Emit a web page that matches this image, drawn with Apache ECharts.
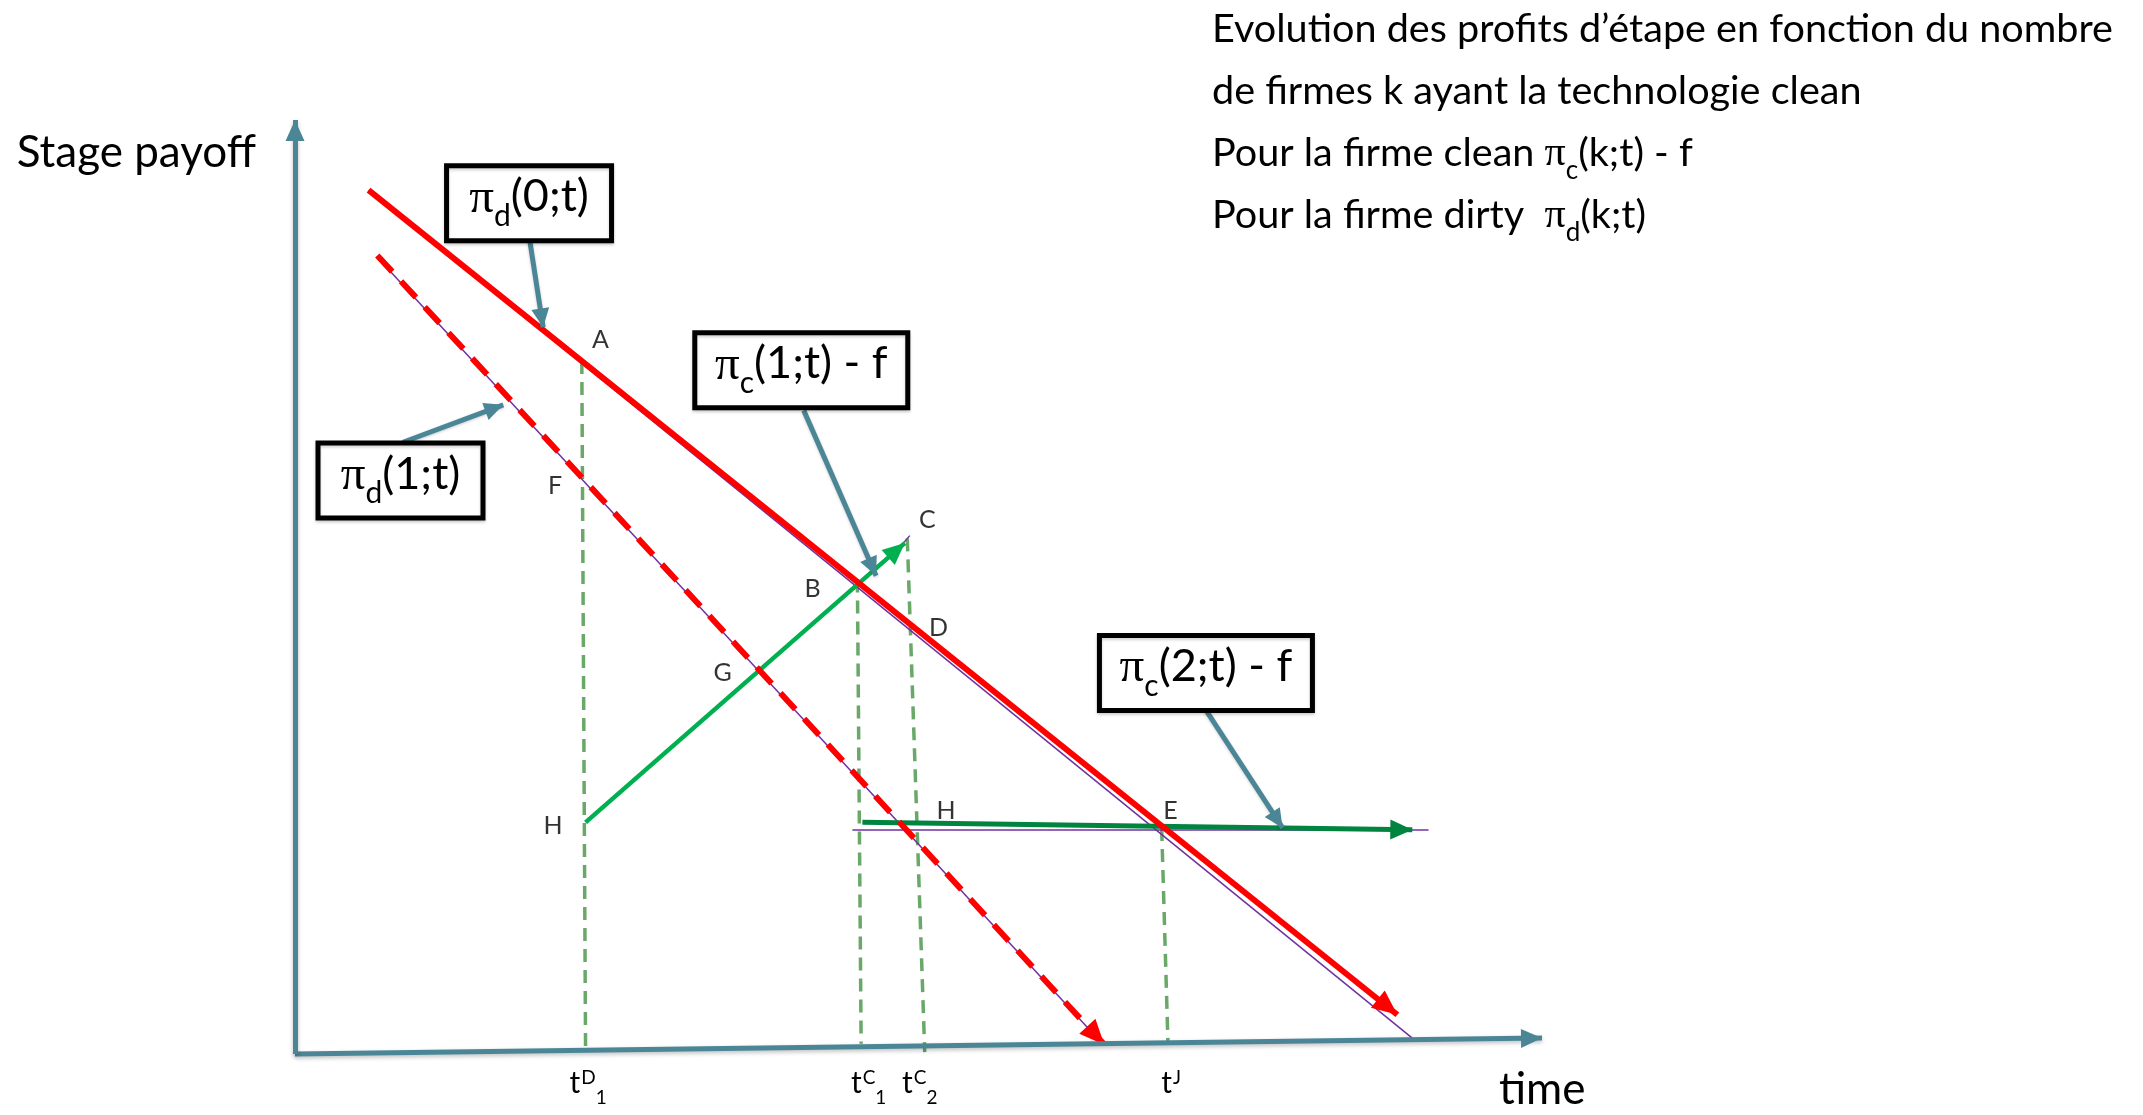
<!DOCTYPE html>
<html><head><meta charset="utf-8">
<script src="https://cdn.jsdelivr.net/npm/echarts@6/dist/echarts.min.js"></script>
<style>html,body{margin:0;padding:0;background:#fff}#c{width:2143px;height:1115px}</style>
</head><body><div id="c"></div>
<script>
// ---------- data (x = time units, y = payoff units) ----------
const axisX = [[0, 0], [100, 1.7]];
const axisY = [[0, 0], [0, 100]];
const piD0 = [[5.9, 92.5], [88.4, 4.2]];          // pi_d(0;t)
const piD0Thin = [[5.9, 92.5], [89.6, 1.7]];
const piD1 = [[6.6, 85.5], [64.9, 1.0]];          // pi_d(1;t)
const piD1Thin = [[6.8, 85.0], [64.4, 1.6]];
const piC1 = [[23.3, 24.8], [48.9, 54.7]];        // pi_c(1;t) - f
const piC1Thin = [[48.0, 53.5], [49.3, 55.5]];
const piC2 = [[45.5, 24.8], [89.6, 24.0]];        // pi_c(2;t) - f
const piC2Thin = [[44.7, 24.0], [90.9, 24.0]];
const dropTD1 = [[23.0, 74.2], [23.3, 0.7]];
const dropTC1 = [[45.1, 50.8], [45.4, 1.1]];
const dropTC2 = [[49.1, 55.2], [50.5, 0.2]];
const dropTJ = [[69.5, 24.2], [70.0, 1.4]];
const tickValues = [23.5, 46.0, 50.1, 70.25];
const tickSup = ['D', 'C', 'C', 'J'];
const tickSub = ['1', '1', '2', ''];
const pointNames = ['A', 'F', 'C', 'B', 'D', 'G', 'H', 'H', 'E'];
const pointX = [24.5, 20.85, 50.7, 41.5, 51.6, 34.3, 20.7, 52.2, 70.2];
const pointY = [76.5, 60.8, 57.2, 49.8, 45.6, 40.8, 24.4, 26.0, 26.0];
const boxSub = ['d', 'd', 'c', 'c'];
const boxArgs = ['(0;t)', '(1;t)', '(1;t) - f', '(2;t) - f'];
const boxAt = [[18.77, 91.1], [8.46, 61.4], [40.6, 73.2], [73.05, 40.8]];
const leaders = [
  [[18.85, 86.9], [19.9, 77.8]],
  [[8.66, 65.5], [16.7, 69.5]],
  [[40.8, 68.9], [46.6, 51.2]],
  [[73.1, 36.7], [79.2, 24.2]]
];
const noteLines = [
  ['Evolution des profits d\u2019étape en fonction du nombre'],
  ['de firmes k ayant la technologie clean'],
  ['Pour la firme clean ', 'c', '(k;t) - f'],
  ['Pour la firme dirty  ', 'd', '(k;t)']
];

// ---------- styles ----------
const FONT = 'Lato, "Noto Sans", sans-serif';
const SERIF = '"Liberation Serif", "DejaVu Serif", serif';
const TEAL = '#4a8696';
const RED = '#ff0000';
const PURPLE = '#7030a0';
const GREEN = '#00b050';
const DGREEN = '#00843f';
const DROP = '#6aa86a';
const BOX_W = [165, 165, 213, 213];   // pixel box sizes (style)
const BOX_H = 75;

// arrow head whose tip sits exactly on the line end (symbol box is centred on the end point)
function arrowHead(w, l) {
  const S = 2 * Math.max(l, w / 2);
  const c = S / 2;
  return {
    path: 'path://M0,0 M' + S + ',0 M' + c + ',' + c + ' L' + (c + w / 2) + ',' + (c + l) +
          ' L' + (c - w / 2) + ',' + (c + l) + ' Z M0,' + S + ' M' + S + ',' + S,
    size: S
  };
}

function seg(coordsList, lineStyle, head, z) {
  return {
    type: 'lines', coordinateSystem: 'cartesian2d', z: z, silent: true, clip: false,
    symbol: head ? ['none', head.path] : 'none',
    symbolSize: head ? head.size : 0,
    lineStyle: Object.assign({opacity: 1, curveness: 0}, lineStyle),
    data: coordsList.map(c => ({coords: c}))
  };
}

const noteText = noteLines.map(l => l.length === 1
  ? '{p|' + l[0] + '}'
  : '{p|' + l[0] + '}{pi|π}{s|' + l[1] + '}{p|' + l[2] + '}').join('\n');

const boxRich = {
  m: {fontFamily: FONT, fontSize: 45, fill: '#000', lineHeight: 54, verticalAlign: 'top'},
  pi: {fontFamily: SERIF, fontSize: 49, fill: '#000', lineHeight: 54, verticalAlign: 'top'},
  s: {fontFamily: FONT, fontSize: 30, fill: '#000', lineHeight: 32, padding: [27, 0, 0, 0], verticalAlign: 'top'}
};

const chart = echarts.init(document.getElementById('c'));
chart.setOption({
  animation: false,
  backgroundColor: '#fff',
  title: {
    text: noteText, left: 1212, top: 9, padding: 0,
    textStyle: {
      fontWeight: 'normal',
      rich: {
        p: {fontFamily: FONT, fontSize: 39.6, fontWeight: 'normal', color: '#000', lineHeight: 62, verticalAlign: 'top'},
        pi: {fontFamily: SERIF, fontSize: 42, fontWeight: 'normal', color: '#000', lineHeight: 62, verticalAlign: 'top'},
        s: {fontFamily: FONT, fontSize: 26, fontWeight: 'normal', color: '#000', lineHeight: 36, padding: [25, 0, 0, 0], verticalAlign: 'top'}
      }
    }
  },
  grid: {left: 295, top: 120, width: 1247, height: 937},
  xAxis: {
    type: 'value', min: 0, max: 100,
    splitLine: {show: false}, axisLine: {show: false}, axisTick: {show: false},
    axisLabel: {
      customValues: tickValues, margin: 14,
      formatter: function (v) {
        const i = tickValues.indexOf(v);
        return '{t|t}{p|' + tickSup[i] + '}' + (tickSub[i] ? '{b|' + tickSub[i] + '}' : '');
      },
      rich: {
        t: {fontFamily: FONT, fontSize: 30, color: '#000', lineHeight: 34, verticalAlign: 'top'},
        p: {fontFamily: FONT, fontSize: 19, color: '#000', lineHeight: 20, padding: [0, 0, 0, 1], verticalAlign: 'top'},
        b: {fontFamily: FONT, fontSize: 19, color: '#000', lineHeight: 20, padding: [20, 0, 0, 0], verticalAlign: 'top'}
      }
    },
    name: 'time', nameLocation: 'end', nameGap: -43,
    nameTextStyle: {fontFamily: FONT, fontSize: 44, color: '#000', align: 'left', verticalAlign: 'top', lineHeight: 50, padding: [11, 0, 0, 0]}
  },
  yAxis: {
    type: 'value', min: 0, max: 100,
    splitLine: {show: false}, axisLine: {show: false}, axisTick: {show: false}, axisLabel: {show: false},
    name: 'Stage payoff', nameLocation: 'end', nameGap: -33,
    nameTextStyle: {fontFamily: FONT, fontSize: 44, color: '#000', align: 'right', verticalAlign: 'middle', padding: [0, 39, 0, 0]}
  },
  series: [
    seg([dropTD1, dropTC1, dropTC2, dropTJ], {color: DROP, width: 3.5, type: [13, 8]}, null, 1),
    seg([piD0Thin, piD1Thin, piC1Thin, piC2Thin], {color: PURPLE, width: 1.5}, null, 2),
    seg([piC1], {color: GREEN, width: 4.5}, arrowHead(20, 22), 3),
    seg([piC2], {color: DGREEN, width: 5}, arrowHead(20, 22), 3),
    seg([piD0], {color: RED, width: 6}, arrowHead(22, 25), 4),
    seg([piD1], {color: RED, width: 6, type: [22, 13]}, arrowHead(22, 25), 4),
    seg([axisX, axisY], {color: TEAL, width: 5, shadowColor: 'rgba(0,0,0,0.25)', shadowBlur: 4, shadowOffsetY: 2}, arrowHead(19, 21), 5),
    seg(leaders, {color: TEAL, width: 5, shadowColor: 'rgba(0,0,0,0.2)', shadowBlur: 3, shadowOffsetY: 1}, arrowHead(18, 19), 6),
    {
      type: 'custom', z: 8, silent: true, clip: false,
      data: boxAt.map((p, i) => [p[0], p[1], i]),
      encode: {x: 0, y: 1},
      renderItem: function (params, api) {
        const i = api.value(2);
        const c = api.coord([api.value(0), api.value(1)]);
        const w = BOX_W[i], h = BOX_H;
        return {
          type: 'group',
          children: [
            {type: 'rect', shape: {x: c[0] - w / 2, y: c[1] - h / 2, width: w, height: h},
             style: {fill: '#ffffff', stroke: '#000000', lineWidth: 5, shadowColor: 'rgba(0,0,0,0.18)', shadowBlur: 3, shadowOffsetY: 2}},
            {type: 'text', x: c[0], y: c[1] - 2,
             style: {text: '{pi|π}{s|' + boxSub[i] + '}{m|' + boxArgs[i] + '}', rich: boxRich,
                     align: 'center', verticalAlign: 'middle', fill: '#000'}}
          ]
        };
      }
    },
    {
      type: 'scatter', z: 9, silent: true, symbolSize: 0,
      data: pointNames.map((n, i) => ({value: [pointX[i], pointY[i]], name: n})),
      label: {
        show: true, position: 'inside', formatter: '{b}', textBorderWidth: 0,
        fontFamily: FONT, fontSize: 25, color: '#000'
      }
    }
  ]
});
</script></body></html>
